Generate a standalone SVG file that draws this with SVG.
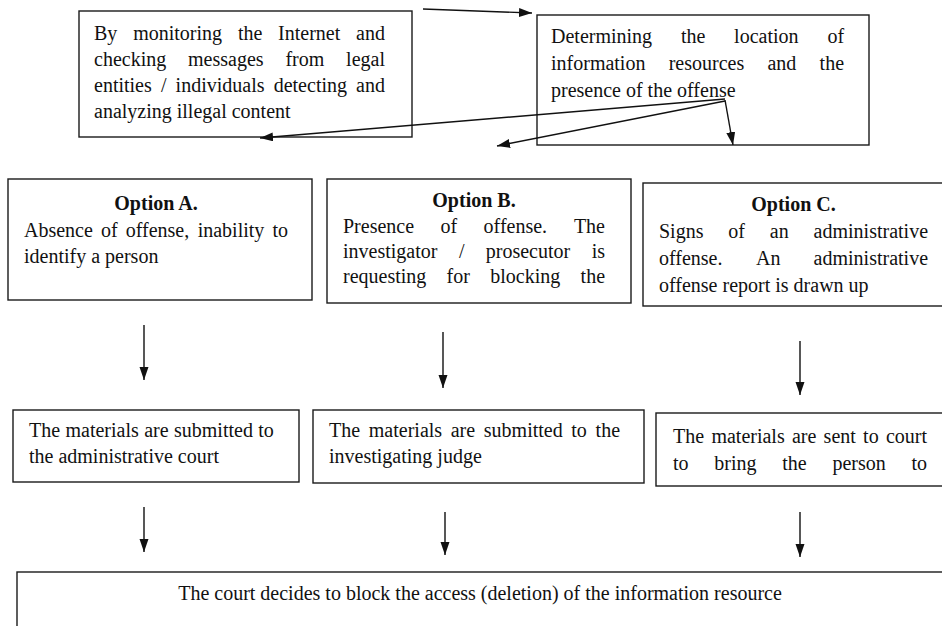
<svg xmlns="http://www.w3.org/2000/svg" width="942" height="626" viewBox="0 0 942 626">
<style>
.box{fill:#fff;stroke:#1a1a1a;stroke-width:1.4}
.t{font-family:"Liberation Serif","Times New Roman",serif;font-size:20px;fill:#111}
.b{font-weight:bold;text-anchor:middle}
.c{fill:none;stroke:#111;stroke-width:1.4}
</style>
<defs>
<marker id="ah" markerUnits="userSpaceOnUse" markerWidth="14" markerHeight="10" refX="13" refY="4.5" orient="auto">
<path d="M0,0 L13,4.5 L0,9 z" fill="#111"/>
</marker>
</defs>
<rect width="942" height="626" fill="#fff"/>

<g id="node-monitoring">
<rect class="box" x="79" y="11" width="333" height="126"/>
<text class="t" y="40"><tspan x="94">By</tspan><tspan x="133.2">monitoring</tspan><tspan x="237.9">the</tspan><tspan x="278.1">Internet</tspan><tspan x="356.1">and</tspan></text>
<text class="t" y="66"><tspan x="94">checking</tspan><tspan x="188">messages</tspan><tspan x="285.4">from</tspan><tspan x="346.1">legal</tspan></text>
<text class="t" y="92"><tspan x="94">entities</tspan><tspan x="160.9">/</tspan><tspan x="175.6">individuals</tspan><tspan x="273.7">detecting</tspan><tspan x="356.1">and</tspan></text>
<text class="t" x="94" y="118">analyzing illegal content</text>
</g>

<g id="node-determining">
<rect class="box" x="537" y="15" width="332" height="130"/>
<text class="t" y="43"><tspan x="551">Determining</tspan><tspan x="680.9">the</tspan><tspan x="734.1">location</tspan><tspan x="827.4">of</tspan></text>
<text class="t" y="70"><tspan x="551">information</tspan><tspan x="668.7">resources</tspan><tspan x="767.4">and</tspan><tspan x="819.6">the</tspan></text>
<text class="t" x="551" y="97">presence of the offense</text>
</g>

<g id="node-option-a">
<rect class="box" x="8" y="179" width="304" height="121"/>
<text class="t b" x="156" y="210">Option A.</text>
<text class="t" y="237"><tspan x="24">Absence</tspan><tspan x="101">of</tspan><tspan x="125.7">offense,</tspan><tspan x="197.7">inability</tspan><tspan x="272.4">to</tspan></text>
<text class="t" x="24" y="263">identify a person</text>
</g>

<g id="node-option-b">
<rect class="box" x="327" y="179" width="304" height="124"/>
<text class="t b" x="474" y="207">Option B.</text>
<text class="t" y="233"><tspan x="343">Presence</tspan><tspan x="440.5">of</tspan><tspan x="483.6">offense.</tspan><tspan x="573.9">The</tspan></text>
<text class="t" y="258"><tspan x="343">investigator</tspan><tspan x="458.9">/</tspan><tspan x="485.8">prosecutor</tspan><tspan x="591.7">is</tspan></text>
<text class="t" y="283"><tspan x="343">requesting</tspan><tspan x="446.6">for</tspan><tspan x="490.3">blocking</tspan><tspan x="580.6">the</tspan></text>
</g>

<g id="node-option-c">
<rect class="box" x="643" y="183" width="312" height="123"/>
<text class="t b" x="793.5" y="211">Option C.</text>
<text class="t" y="238"><tspan x="659">Signs</tspan><tspan x="728.3">of</tspan><tspan x="769.8">an</tspan><tspan x="813.6">administrative</tspan></text>
<text class="t" y="265"><tspan x="659">offense.</tspan><tspan x="756">An</tspan><tspan x="813.6">administrative</tspan></text>
<text class="t" x="659" y="292">offense report is drawn up</text>
</g>

<g id="node-admin-court">
<rect class="box" x="13" y="410" width="286" height="72"/>
<text class="t" x="29" y="437" word-spacing="0.4">The materials are submitted to</text>
<text class="t" x="29" y="463">the administrative court</text>
</g>

<g id="node-investigating-judge">
<rect class="box" x="313" y="410" width="331" height="73"/>
<text class="t" y="437"><tspan x="329">The</tspan><tspan x="368.8">materials</tspan><tspan x="450.7">are</tspan><tspan x="483.8">submitted</tspan><tspan x="571.3">to</tspan><tspan x="595.6">the</tspan></text>
<text class="t" x="329" y="463">investigating judge</text>
</g>

<g id="node-sent-to-court">
<rect class="box" x="656" y="413" width="300" height="73"/>
<text class="t" y="443"><tspan x="673">The</tspan><tspan x="711.4">materials</tspan><tspan x="791.9">are</tspan><tspan x="823.6">sent</tspan><tspan x="863.1">to</tspan><tspan x="885.9">court</tspan></text>
<text class="t" y="470"><tspan x="673">to</tspan><tspan x="714.3">bring</tspan><tspan x="782.2">the</tspan><tspan x="832.4">person</tspan><tspan x="911.5">to</tspan></text>
</g>

<g id="node-court-decides">
<rect class="box" x="17" y="572" width="940" height="80"/>
<text class="t" x="480" y="600" text-anchor="middle">The court decides to block the access (deletion) of the information resource</text>
</g>

<g id="connectors">
<line class="c" x1="423" y1="9" x2="532" y2="13" marker-end="url(#ah)"/>
<line class="c" x1="725" y1="99" x2="260" y2="138" marker-end="url(#ah)"/>
<line class="c" x1="725" y1="101" x2="497" y2="146" marker-end="url(#ah)"/>
<line class="c" x1="725" y1="100" x2="733" y2="145" marker-end="url(#ah)"/>
<line class="c" x1="144" y1="325" x2="144" y2="380" marker-end="url(#ah)"/>
<line class="c" x1="443" y1="332" x2="443" y2="388" marker-end="url(#ah)"/>
<line class="c" x1="800" y1="341" x2="800" y2="395" marker-end="url(#ah)"/>
<line class="c" x1="144" y1="507" x2="144" y2="552" marker-end="url(#ah)"/>
<line class="c" x1="445" y1="512" x2="445" y2="555" marker-end="url(#ah)"/>
<line class="c" x1="800" y1="512" x2="800" y2="557" marker-end="url(#ah)"/>
</g>
</svg>
